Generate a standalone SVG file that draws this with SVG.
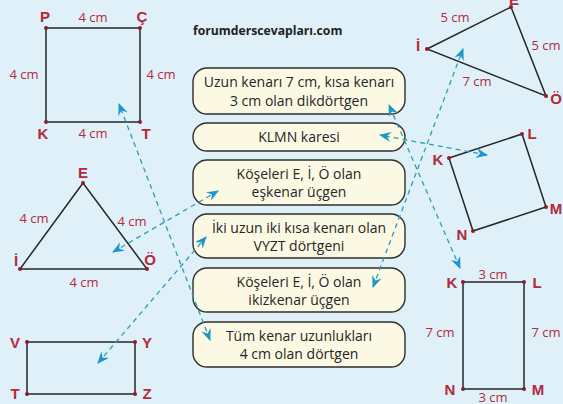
<svg xmlns="http://www.w3.org/2000/svg" width="563" height="404" viewBox="0 0 563 404">
<defs>
<style>
.bg{fill:#dff0f9}
.box{fill:#fbf9e4;stroke:#2e2e2e;stroke-width:1.4}
.bt{font-family:"Open Sans","Noto Sans",sans-serif;font-size:14px;fill:#262626;text-anchor:middle}
.sh{fill:none;stroke:#262626;stroke-width:1.5}
.pt{fill:#8a1f2e}
.lb{font-family:"Liberation Sans",Arial,sans-serif;font-size:15px;font-weight:bold;fill:#b32a3c;text-anchor:middle}
.ms{font-family:"Open Sans","Noto Sans",sans-serif;font-size:13px;fill:#b32a3c;text-anchor:middle}
.cn{fill:none;stroke:#2a9fb0;stroke-width:1.3;stroke-dasharray:5 4;marker-start:url(#ah);marker-end:url(#ah)}
</style>
<marker id="ah" viewBox="0 0 12 10" refX="11" refY="5" markerWidth="12" markerHeight="10" markerUnits="userSpaceOnUse" orient="auto-start-reverse">
<path d="M0,0 L12,5 L0,10 L4,5 z" fill="#1e96c8"/>
</marker>
</defs>
<rect class="bg" x="0" y="0" width="563" height="404"/>
<text x="193" y="35" font-family="Open Sans,Noto Sans,sans-serif" font-size="12.2" font-weight="bold" fill="#222">forumderscevapları.com</text>

<g id="square-PCTK">
<rect class="sh" x="46" y="28" width="94" height="94"/>
<circle class="pt" cx="46" cy="28" r="2"/><circle class="pt" cx="140" cy="28" r="2"/><circle class="pt" cx="140" cy="122" r="2"/><circle class="pt" cx="46" cy="122" r="2"/>
<text class="lb" x="45" y="22">P</text><text class="lb" x="142" y="22">Ç</text><text class="lb" x="43" y="139">K</text><text class="lb" x="146" y="139">T</text>
<text class="ms" x="93" y="22">4 cm</text><text class="ms" x="24" y="79">4 cm</text><text class="ms" x="161" y="79">4 cm</text><text class="ms" x="93" y="138">4 cm</text>
</g>

<g id="triangle-left">
<polygon class="sh" points="83,183 20,269 147,269"/>
<circle class="pt" cx="83" cy="183" r="2"/><circle class="pt" cx="20" cy="269" r="2"/><circle class="pt" cx="147" cy="269" r="2"/>
<text class="lb" x="83" y="178">E</text><text class="lb" x="16" y="266">İ</text><text class="lb" x="150" y="265">Ö</text>
<text class="ms" x="34" y="223">4 cm</text><text class="ms" x="132" y="226">4 cm</text><text class="ms" x="84" y="287">4 cm</text>
</g>

<g id="rect-VYZT">
<rect class="sh" x="27" y="342" width="108" height="52"/>
<circle class="pt" cx="27" cy="342" r="2"/><circle class="pt" cx="135" cy="342" r="2"/><circle class="pt" cx="135" cy="394" r="2"/><circle class="pt" cx="27" cy="394" r="2"/>
<text class="lb" x="15" y="348">V</text><text class="lb" x="147" y="348">Y</text><text class="lb" x="15" y="399">T</text><text class="lb" x="147" y="399">Z</text>
</g>

<g id="triangle-right">
<polygon class="sh" points="511,7 427,49 546,96"/>
<circle class="pt" cx="511" cy="7" r="2"/><circle class="pt" cx="427" cy="49" r="2"/><circle class="pt" cx="546" cy="96" r="2"/>
<text class="lb" x="514" y="5">E</text><text class="lb" x="418" y="51">İ</text><text class="lb" x="556" y="104">Ö</text>
<text class="ms" x="455" y="22">5 cm</text><text class="ms" x="546" y="50">5 cm</text><text class="ms" x="477" y="86">7 cm</text>
</g>

<g id="square-KLMN">
<polygon class="sh" points="449,158 522,134 546,207 473,231"/>
<circle class="pt" cx="449" cy="158" r="2"/><circle class="pt" cx="522" cy="134" r="2"/><circle class="pt" cx="546" cy="207" r="2"/><circle class="pt" cx="473" cy="231" r="2"/>
<text class="lb" x="438" y="165">K</text><text class="lb" x="532" y="139">L</text><text class="lb" x="556" y="214">M</text><text class="lb" x="462" y="240">N</text>
</g>

<g id="rect-KLMN">
<rect class="sh" x="463" y="282" width="61" height="107"/>
<circle class="pt" cx="463" cy="282" r="2"/><circle class="pt" cx="524" cy="282" r="2"/><circle class="pt" cx="524" cy="389" r="2"/><circle class="pt" cx="463" cy="389" r="2"/>
<text class="lb" x="452" y="288">K</text><text class="lb" x="537" y="288">L</text><text class="lb" x="538" y="395">M</text><text class="lb" x="450" y="395">N</text>
<text class="ms" x="493" y="279">3 cm</text><text class="ms" x="493" y="402">3 cm</text><text class="ms" x="440" y="337">7 cm</text><text class="ms" x="546" y="337">7 cm</text>
</g>

<g id="box1"><rect class="box" x="193" y="68" width="212" height="46" rx="14"/>
<text class="bt" x="299" y="87">Uzun kenarı 7 cm, kısa kenarı</text><text class="bt" x="299" y="106">3 cm olan dikdörtgen</text></g>
<g id="box2"><rect class="box" x="193" y="123" width="212" height="28" rx="14"/>
<text class="bt" x="299" y="142">KLMN karesi</text></g>
<g id="box3"><rect class="box" x="193" y="160" width="212" height="45" rx="14"/>
<text class="bt" x="299" y="179">Köşeleri E, İ, Ö olan</text><text class="bt" x="299" y="197">eşkenar üçgen</text></g>
<g id="box4"><rect class="box" x="193" y="214" width="212" height="44" rx="14"/>
<text class="bt" x="299" y="233">İki uzun iki kısa kenarı olan</text><text class="bt" x="299" y="251">VYZT dörtgeni</text></g>
<g id="box5"><rect class="box" x="193" y="268" width="212" height="44" rx="14"/>
<text class="bt" x="299" y="287">Köşeleri E, İ, Ö olan</text><text class="bt" x="299" y="305">ikizkenar üçgen</text></g>
<g id="box6"><rect class="box" x="193" y="322" width="212" height="45" rx="14"/>
<text class="bt" x="299" y="341">Tüm kenar uzunlukları</text><text class="bt" x="299" y="359">4 cm olan dörtgen</text></g>

<g id="connectors">
<line class="cn" x1="210" y1="340" x2="119" y2="104"/>
<line class="cn" x1="487" y1="155" x2="380" y2="135"/>
<line class="cn" x1="113" y1="252" x2="218" y2="191"/>
<line class="cn" x1="98" y1="363" x2="206" y2="237"/>
<line class="cn" x1="460" y1="268" x2="389" y2="105"/>
<line class="cn" x1="373" y1="287" x2="463" y2="49"/>
</g>
</svg>
